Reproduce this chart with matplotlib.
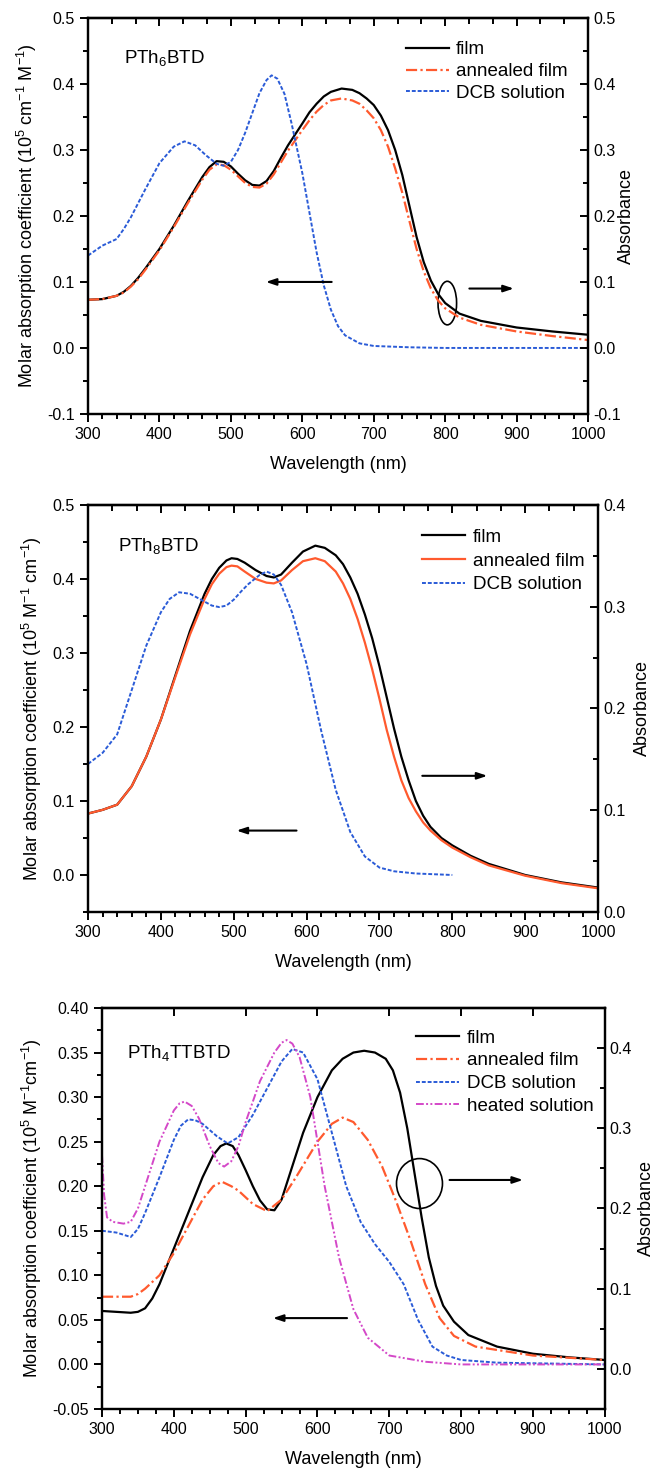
import matplotlib
matplotlib.use('Agg')
import matplotlib.pyplot as plt
from matplotlib.patches import Ellipse
from matplotlib.ticker import MultipleLocator, FormatStrFormatter

plt.rcParams['font.family'] = ['Liberation Sans', 'DejaVu Sans']
plt.rcParams['mathtext.fontset'] = 'custom'
plt.rcParams['mathtext.rm'] = 'Liberation Sans'
plt.rcParams['mathtext.it'] = 'Liberation Sans'
plt.rcParams['mathtext.default'] = 'regular'
plt.rcParams['axes.linewidth'] = 1.6

# ---- panel 1 : PTh6BTD (values read on left scale) ----
p1_film_wl = [300, 320, 340, 350, 360, 370, 380, 400, 420, 440, 460, 470, 480, 490, 500, 510, 520, 530,
              540, 550, 560, 570, 580, 600, 610, 620, 630, 640, 655, 670, 680, 690, 700, 710, 720, 730,
              740, 750, 760, 770, 780, 790, 800, 820, 850, 900, 950, 1000]
p1_film = [0.073, 0.074, 0.079, 0.085, 0.094, 0.106, 0.120, 0.150, 0.185, 0.223, 0.259, 0.274, 0.283,
           0.282, 0.275, 0.264, 0.254, 0.247, 0.246, 0.253, 0.268, 0.288, 0.307, 0.340, 0.357, 0.370,
           0.381, 0.388, 0.393, 0.391, 0.386, 0.378, 0.368, 0.352, 0.330, 0.300, 0.262, 0.215, 0.168,
           0.130, 0.102, 0.082, 0.068, 0.052, 0.041, 0.031, 0.025, 0.020]
p1_ann = [0.073, 0.074, 0.079, 0.084, 0.093, 0.104, 0.118, 0.148, 0.183, 0.220, 0.255, 0.270, 0.278,
          0.277, 0.270, 0.260, 0.250, 0.244, 0.243, 0.249, 0.263, 0.281, 0.299, 0.330, 0.345, 0.358,
          0.368, 0.375, 0.378, 0.375, 0.370, 0.360, 0.348, 0.330, 0.305, 0.272, 0.235, 0.192, 0.150,
          0.116, 0.090, 0.072, 0.060, 0.046, 0.035, 0.025, 0.018, 0.012]
p1_dcb_wl = [300, 320, 340, 350, 360, 380, 400, 420, 435, 450, 465, 480, 490, 500, 510, 520, 530, 540,
             550, 557, 565, 575, 585, 600, 610, 620, 630, 640, 650, 660, 680, 700, 750, 800, 1000]
p1_dcb = [0.140, 0.155, 0.165, 0.180, 0.198, 0.240, 0.280, 0.305, 0.313, 0.307, 0.292, 0.279, 0.276,
          0.282, 0.300, 0.326, 0.356, 0.386, 0.406, 0.413, 0.408, 0.385, 0.340, 0.265, 0.205, 0.145,
          0.095, 0.058, 0.033, 0.019, 0.007, 0.003, 0.001, 0.000, 0.000]

# ---- panel 2 : PTh8BTD ----
p2_film_wl = [300, 320, 340, 360, 380, 400, 420, 440, 460, 470, 480, 490, 497, 505, 515, 530, 545, 555,
              565, 580, 595, 612, 625, 640, 650, 660, 670, 680, 690, 700, 710, 720, 730, 740, 750, 760,
              770, 785, 800, 825, 850, 900, 950, 1000]
p2_film = [0.083, 0.088, 0.095, 0.120, 0.160, 0.210, 0.270, 0.330, 0.380, 0.400, 0.415, 0.425, 0.428,
           0.427, 0.422, 0.412, 0.404, 0.402, 0.406, 0.422, 0.437, 0.445, 0.442, 0.432, 0.420, 0.402,
           0.380, 0.352, 0.320, 0.282, 0.240, 0.198, 0.160, 0.128, 0.100, 0.080, 0.065, 0.050, 0.040,
           0.026, 0.015, 0.000, -0.010, -0.017]
p2_ann = [0.083, 0.088, 0.095, 0.120, 0.160, 0.210, 0.268, 0.325, 0.373, 0.393, 0.407, 0.416, 0.418,
          0.417, 0.410, 0.400, 0.395, 0.394, 0.398, 0.412, 0.424, 0.428, 0.424, 0.410, 0.394, 0.373,
          0.346, 0.314, 0.278, 0.238, 0.196, 0.160, 0.128, 0.104, 0.086, 0.071, 0.060, 0.047, 0.037,
          0.024, 0.013, -0.001, -0.011, -0.018]
p2_dcb_wl = [300, 320, 340, 360, 380, 400, 412, 425, 440, 455, 470, 480, 490, 500, 510, 520, 535, 545,
             555, 565, 580, 600, 620, 640, 660, 680, 700, 720, 750, 800]
p2_dcb = [0.150, 0.165, 0.190, 0.250, 0.310, 0.355, 0.373, 0.382, 0.380, 0.372, 0.364, 0.362, 0.364,
          0.372, 0.383, 0.393, 0.405, 0.410, 0.406, 0.392, 0.355, 0.285, 0.195, 0.115, 0.058, 0.025,
          0.010, 0.005, 0.002, 0.000]

# ---- panel 3 : PTh4TTBTD ----
p3_film_wl = [300, 320, 340, 350, 360, 370, 380, 400, 420, 440, 455, 465, 473, 482, 490, 500, 510, 520,
              530, 540, 550, 560, 580, 600, 620, 635, 650, 665, 680, 695, 705, 715, 725, 735, 745, 755,
              765, 775, 790, 810, 850, 900, 950, 1000]
p3_film = [0.060, 0.059, 0.058, 0.059, 0.063, 0.074, 0.090, 0.130, 0.170, 0.210, 0.235, 0.245, 0.248,
           0.245, 0.235, 0.218, 0.200, 0.184, 0.174, 0.173, 0.185, 0.210, 0.260, 0.300, 0.330, 0.343,
           0.350, 0.352, 0.350, 0.343, 0.330, 0.305, 0.265, 0.215, 0.165, 0.120, 0.088, 0.066, 0.048,
           0.033, 0.020, 0.012, 0.008, 0.005]
p3_ann_wl = [300, 340, 350, 360, 380, 400, 420, 440, 455, 467, 480, 490, 510, 530, 550, 570, 600, 620,
             635, 650, 670, 690, 710, 730, 750, 770, 790, 820, 900, 1000]
p3_ann = [0.076, 0.076, 0.079, 0.085, 0.100, 0.125, 0.155, 0.185, 0.200, 0.205, 0.200, 0.195, 0.180,
          0.172, 0.185, 0.210, 0.250, 0.270, 0.277, 0.272, 0.252, 0.222, 0.182, 0.138, 0.090, 0.052,
          0.032, 0.020, 0.010, 0.005]
p3_dcb_wl = [300, 320, 340, 350, 360, 380, 400, 410, 420, 430, 440, 460, 475, 490, 510, 530, 550, 565,
             580, 600, 620, 640, 660, 680, 700, 720, 740, 760, 780, 800, 850, 1000]
p3_dcb = [0.150, 0.148, 0.143, 0.152, 0.170, 0.210, 0.252, 0.268, 0.275, 0.274, 0.270, 0.256, 0.248,
          0.255, 0.280, 0.310, 0.340, 0.354, 0.350, 0.320, 0.260, 0.200, 0.160, 0.135, 0.115, 0.090,
          0.050, 0.020, 0.010, 0.005, 0.002, 0.000]
p3_heat_wl = [300, 303, 307, 315, 330, 340, 350, 360, 380, 400, 408, 415, 425, 435, 450, 462, 470, 480,
              490, 500, 520, 540, 550, 557, 565, 575, 590, 610, 630, 650, 670, 700, 750, 800, 1000]
p3_heat = [0.235, 0.190, 0.165, 0.160, 0.158, 0.160, 0.175, 0.200, 0.250, 0.285, 0.293, 0.295, 0.290,
           0.276, 0.245, 0.226, 0.222, 0.228, 0.245, 0.272, 0.318, 0.350, 0.361, 0.364, 0.360, 0.345,
           0.300, 0.200, 0.120, 0.062, 0.030, 0.010, 0.003, 0.000, 0.000]

BLACK = 'black'
ORANGE = '#ff5a2e'
BLUE = '#2a5bd7'
MAGENTA = '#d448c8'

fig = plt.figure(figsize=(6.53, 14.70), dpi=100)
ax1 = fig.add_axes([0.1348, 0.7184, 0.7657, 0.2694])
ax2 = fig.add_axes([0.1348, 0.3796, 0.7810, 0.2769])
ax3 = fig.add_axes([0.1562, 0.0415, 0.7700, 0.2728])

TICK_FS = 11.5
LAB_FS = 13
LEG_FS = 13.5


def style(ax, ylim, rlim, ymaj, ymin, rmaj, rmin, yfmt, rfmt, xmin, ylabel, top_maj, top_min, rlab_x):
    ax.set_xlim(300, 1000)
    ax.set_ylim(*ylim)
    ax.xaxis.set_major_locator(MultipleLocator(100))
    ax.xaxis.set_minor_locator(MultipleLocator(xmin))
    ax.yaxis.set_major_locator(MultipleLocator(ymaj))
    ax.yaxis.set_minor_locator(MultipleLocator(ymin))
    ax.yaxis.set_major_formatter(FormatStrFormatter(yfmt))
    ax.tick_params(which='both', direction='out', width=1.4, labelsize=TICK_FS, top=False, right=False)
    ax.tick_params(which='major', length=6)
    ax.tick_params(which='minor', length=3.5)
    ax.set_xlabel('Wavelength (nm)', fontsize=LAB_FS, labelpad=10)
    ax.set_ylabel(ylabel, fontsize=LAB_FS, labelpad=6)
    r = ax.twinx()
    r.set_ylim(*rlim)
    r.yaxis.set_major_locator(MultipleLocator(rmaj))
    r.yaxis.set_minor_locator(MultipleLocator(rmin))
    r.yaxis.set_major_formatter(FormatStrFormatter(rfmt))
    r.tick_params(which='both', direction='in', width=1.4, labelsize=TICK_FS)
    r.tick_params(which='major', length=6)
    r.tick_params(which='minor', length=3.5)
    r.set_ylabel('Absorbance', fontsize=LAB_FS)
    r.yaxis.set_label_coords(rlab_x, 0.5)
    t = ax.secondary_xaxis('top')
    t.xaxis.set_major_locator(MultipleLocator(top_maj))
    if top_min:
        t.xaxis.set_minor_locator(MultipleLocator(top_min))
    t.tick_params(which='both', direction='in', width=1.4, labeltop=False)
    t.tick_params(which='major', length=6)
    t.tick_params(which='minor', length=4)
    return r


ARROW = dict(arrowstyle='-|>,head_length=0.6,head_width=0.2', color='black', lw=1.5)

# panel 1
ax1.plot(p1_film_wl, p1_film, color=BLACK, lw=1.6, label='film')
ax1.plot(p1_film_wl, p1_ann, color=ORANGE, lw=1.6, ls=(0, (5, 1.5, 1, 1.5)), label='annealed film')
ax1.plot(p1_dcb_wl, p1_dcb, color=BLUE, lw=1.4, ls=(0, (2, 1)), label='DCB solution')
style(ax1, (-0.1, 0.5), (-0.1, 0.5), 0.1, 0.05, 0.1, 0.05, '%.1f', '%.1f', 20,
      'Molar absorption coefficient (10$^5$ cm$^{-1}$ M$^{-1}$)', 100, 100 / 3, 1.06)
ax1.text(350, 0.44, 'PTh$_6$BTD', fontsize=LEG_FS, va='center')
ax1.legend(loc='upper left', bbox_to_anchor=(0.62, 0.96), frameon=False, fontsize=LEG_FS,
           handlelength=2.3, handletextpad=0.4, labelspacing=0.25, borderaxespad=0)
ax1.annotate('', xy=(545, 0.1), xytext=(645, 0.1), arrowprops=ARROW)
ax1.annotate('', xy=(900, 0.09), xytext=(830, 0.09), arrowprops=ARROW)
ax1.add_patch(Ellipse((803, 0.068), 26, 0.066, fill=False, ec='black', lw=1.2))

# panel 2
ax2.plot(p2_film_wl, p2_film, color=BLACK, lw=1.6, label='film')
ax2.plot(p2_film_wl, p2_ann, color=ORANGE, lw=1.6, label='annealed film')
ax2.plot(p2_dcb_wl, p2_dcb, color=BLUE, lw=1.4, ls=(0, (2, 1)), label='DCB solution')
style(ax2, (-0.05, 0.5), (0.0, 0.4), 0.1, 0.05, 0.1, 0.05, '%.1f', '%.1f', 20,
      'Molar absorption coefficient (10$^5$ M$^{-1}$ cm$^{-1}$)', 100, 100 / 3, 1.07)
ax2.text(341, 0.445, 'PTh$_8$BTD', fontsize=LEG_FS, va='center')
ax2.legend(loc='upper left', bbox_to_anchor=(0.64, 0.96), frameon=False, fontsize=LEG_FS,
           handlelength=2.3, handletextpad=0.4, labelspacing=0.35, borderaxespad=0)
ax2.annotate('', xy=(500, 0.06), xytext=(590, 0.06), arrowprops=ARROW)
ax2.annotate('', xy=(852, 0.134), xytext=(755, 0.134), arrowprops=ARROW)

# panel 3
ax3.plot(p3_film_wl, p3_film, color=BLACK, lw=1.6, label='film')
ax3.plot(p3_ann_wl, p3_ann, color=ORANGE, lw=1.6, ls=(0, (5, 1.5, 1, 1.5)), label='annealed film')
ax3.plot(p3_dcb_wl, p3_dcb, color=BLUE, lw=1.4, ls=(0, (2, 1)), label='DCB solution')
ax3.plot(p3_heat_wl, p3_heat, color=MAGENTA, lw=1.4, ls=(0, (4, 1.2, 1, 1.2, 1, 1.2)),
         label='heated solution')
style(ax3, (-0.05, 0.40), (-0.05, 0.45), 0.05, 0.025, 0.1, 0.05, '%.2f', '%.1f', 25,
      'Molar absorption coefficient (10$^5$ M$^{-1}$cm$^{-1}$)', 100, None, 1.065)
ax3.text(335, 0.35, 'PTh$_4$TTBTD', fontsize=LEG_FS, va='center')
ax3.legend(loc='upper left', bbox_to_anchor=(0.61, 0.965), frameon=False, fontsize=LEG_FS,
           handlelength=2.3, handletextpad=0.4, labelspacing=0.3, borderaxespad=0)
ax3.annotate('', xy=(534, 0.052), xytext=(645, 0.052), arrowprops=ARROW)
ax3.annotate('', xy=(890, 0.207), xytext=(780, 0.207), arrowprops=ARROW)
ax3.add_patch(Ellipse((742, 0.203), 64, 0.056, fill=False, ec='black', lw=1.2))

fig.savefig('out.png', dpi=100)
